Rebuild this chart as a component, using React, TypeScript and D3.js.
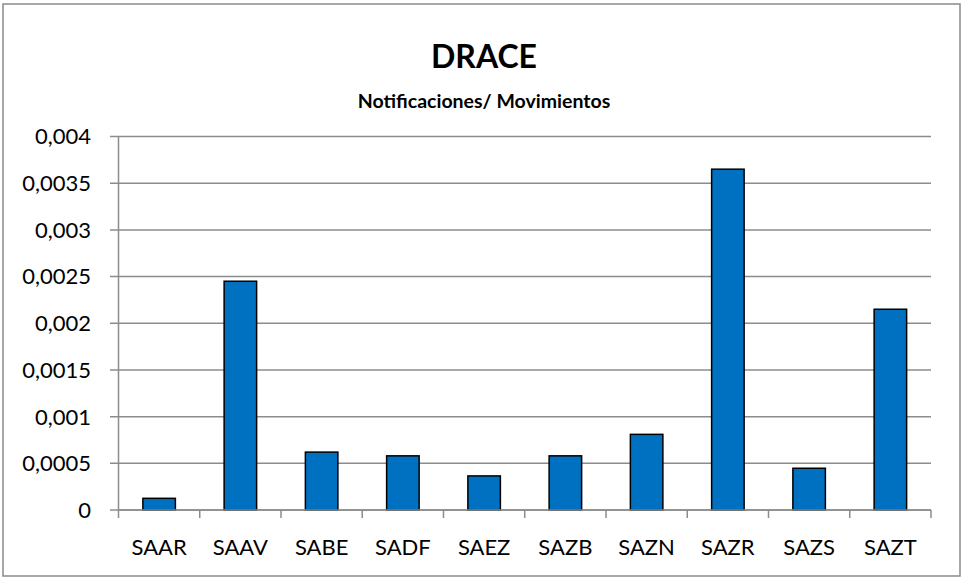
import * as d3 from "d3";

const categories = ["SAAR", "SAAV", "SABE", "SADF", "SAEZ", "SAZB", "SAZN", "SAZR", "SAZS", "SAZT"];
const values = [0.000125, 0.00245, 0.00062, 0.00058, 0.000365, 0.00058, 0.00081, 0.00365, 0.000447, 0.00215];
const yTicks = [0, 0.0005, 0.001, 0.0015, 0.002, 0.0025, 0.003, 0.0035, 0.004];
const yTickLabels = ["0", "0,0005", "0,001", "0,0015", "0,002", "0,0025", "0,003", "0,0035", "0,004"];
const title = "DRACE";
const subtitle = "Notificaciones/ Movimientos";

const W = 963;
const H = 578;
const left = 118.5;
const right = 931;
const top = 136.5;
const bottom = 510;
const font = "Lato, 'Open Sans', sans-serif";
const gridColor = "#8c8c8c";

export default function App() {
  const x = d3.scaleBand<string>().domain(categories).range([left, right]).paddingInner(0.6).paddingOuter(0.3);
  const y = d3.scaleLinear().domain([0, 0.004]).range([bottom, top]);
  const step = x.step();
  const edges = d3.range(categories.length + 1).map((i) => left + i * step);

  return (
    <svg width={W} height={H} style={{ position: "absolute", left: 0, top: 0, background: "#fff" }}>
      <rect x={3} y={4} width={957} height={572} fill="#fff" stroke="#8a8a8a" strokeWidth={1.5} />
      <text x={484} y={68} textAnchor="middle" fontFamily={font} fontWeight="bold" fontSize={32} fill="#000">
        {title}
      </text>
      <text x={484} y={108} textAnchor="middle" fontFamily={font} fontWeight="bold" fontSize={19.5} fill="#000">
        {subtitle}
      </text>

      {/* gridlines + y ticks */}
      {yTicks.map((t, i) => (
        <g key={i}>
          <line x1={110} x2={right} y1={y(t)} y2={y(t)} stroke={gridColor} strokeWidth={1.5} />
          <text x={91} y={y(t)} dy="0.36em" textAnchor="end" fontFamily={font} fontSize={22} fill="#000">
            {yTickLabels[i]}
          </text>
        </g>
      ))}
      <line x1={left} x2={left} y1={top} y2={bottom} stroke={gridColor} strokeWidth={1.5} />

      {/* bars */}
      {values.map((v, i) => (
        <rect
          key={categories[i]}
          x={x(categories[i])}
          y={y(v)}
          width={x.bandwidth()}
          height={bottom - y(v)}
          fill="#0070C0"
          stroke="#000"
          strokeWidth={1.5}
        />
      ))}

      {/* x axis */}
      <line x1={left} x2={right} y1={bottom} y2={bottom} stroke={gridColor} strokeWidth={1.5} />
      {edges.map((e, i) => (
        <line key={i} x1={e} x2={e} y1={bottom} y2={bottom + 8} stroke={gridColor} strokeWidth={1.5} />
      ))}
      {categories.map((c) => (
        <text
          key={c}
          x={(x(c) ?? 0) + x.bandwidth() / 2}
          y={555}
          textAnchor="middle"
          fontFamily={font}
          fontSize={22}
          fill="#000"
        >
          {c}
        </text>
      ))}
    </svg>
  );
}
